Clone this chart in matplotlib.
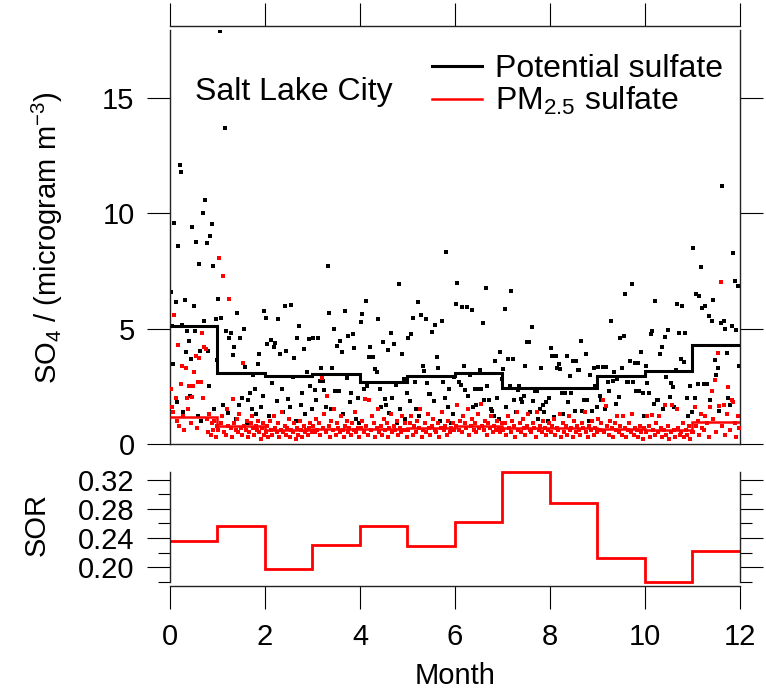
import numpy as np
import matplotlib
matplotlib.use("Agg")
import matplotlib.pyplot as plt

plt.rcParams['font.family'] = ['Liberation Sans', 'DejaVu Sans']
plt.rcParams['mathtext.fontset'] = 'custom'
plt.rcParams['mathtext.rm'] = 'Liberation Sans'
plt.rcParams['mathtext.it'] = 'Liberation Sans:italic'

# month edges and monthly means
month_edges = np.arange(13)
potential_mean = [5.13, 3.06, 2.96, 3.03, 2.67, 2.93, 3.09, 2.43, 2.44, 2.96, 3.18, 4.29]
pm25_mean = [1.18, 0.76, 0.61, 0.66, 0.66, 0.68, 0.80, 0.71, 0.70, 0.64, 0.61, 0.96]
sor_values = [0.236, 0.256, 0.198, 0.231, 0.257, 0.229, 0.262, 0.330, 0.288, 0.212, 0.180, 0.222]

# daily potential sulfate, one list per month
potential_daily = [
    [6.6, 5.1, 3.47, 9.6, 6.15, 1.8, 8.6, 12.1, 11.8, 5.16, 1.4, 6.24, 4.0, 4.9, 4.45, 2.1, 3.67, 9.4,
     5.98, 4.9, 8.76, 1.2, 7.8, 4.03, 1.0, 10.0, 5.33, 10.6, 8.7, 4.03, 2.5, 9.0, 9.55, 7.7, 1.5, 5.4, 3.66],
    [6.27, 17.9, 5.48, 1.7, 13.7, 4.9, 1.35, 4.6, 4.8, 3.85, 4.19, 1.1, 5.7, 1.7, 4.6, 2.0, 5.0, 3.32,
     0.9, 1.9, 2.2, 1.5, 3.0, 2.4, 1.3, 3.45, 3.9, 1.6, 2.1, 5.77],
    [5.48, 4.33, 1.2, 4.5, 2.66, 4.19, 4.37, 1.85, 5.42, 3.9, 2.4, 1.4, 6.0, 4.05, 1.95, 1.6, 6.02, 2.9,
     3.74, 1.0, 4.58, 5.11, 1.7, 2.2, 4.1, 1.3, 3.1, 4.53, 2.5, 1.5],
    [4.6, 2.35, 1.9, 4.6, 2.75, 3.3, 2.75, 2.35, 1.6, 7.7, 5.7, 1.5, 3.3, 5.0, 2.3, 4.26, 2.3, 4.45,
     3.97, 1.3, 5.77, 2.85, 4.68, 1.8, 2.2, 4.77, 4.15, 1.1, 2.0, 0.9],
    [5.3, 5.62, 2.4, 6.2, 2.5, 3.76, 4.2, 1.2, 3.75, 3.27, 3.1, 5.4, 2.4, 1.6, 4.4, 1.93, 1.7, 4.06,
     1.35, 4.8, 2.0, 4.35, 2.55, 0.9, 6.92, 1.5, 3.9, 2.8, 1.1, 2.2],
    [4.58, 1.85, 4.75, 5.45, 2.7, 1.5, 6.17, 1.2, 5.6, 3.37, 3.15, 5.4, 2.65, 2.15, 2.15, 4.85, 1.85,
     5.18, 3.78, 3.3, 1.0, 5.35, 2.7, 2.0, 8.31, 1.6, 2.4, 0.9, 1.3, 2.9],
    [6.05, 7.0, 2.7, 2.55, 5.95, 3.39, 2.35, 5.95, 2.1, 3.0, 5.8, 1.6, 2.4, 1.7, 2.4, 3.2, 2.4, 5.23,
     1.9, 6.75, 2.5, 1.9, 1.5, 1.45, 1.2, 3.6, 2.0, 1.1, 4.0, 2.8],
    [3.25, 5.87, 1.6, 3.7, 2.5, 6.63, 3.7, 1.9, 1.4, 2.35, 2.5, 1.95, 1.8, 2.1, 3.4, 4.4, 4.4, 1.4,
     5.07, 1.85, 2.3, 2.3, 1.1, 1.5, 3.3, 1.7, 1.4, 1.8, 1.0, 2.0],
    [4.18, 3.8, 1.15, 3.8, 3.3, 3.46, 3.27, 2.2, 1.3, 2.2, 3.8, 1.8, 2.95, 2.2, 3.6, 1.45, 3.6, 3.2,
     3.2, 4.46, 1.45, 1.9, 3.9, 1.9, 1.0, 3.0, 1.45, 3.3, 2.5, 1.6],
    [3.35, 2.1, 1.9, 3.35, 1.5, 3.35, 2.7, 2.3, 5.34, 2.75, 3.1, 1.75, 2.8, 2.05, 4.6, 3.3, 4.7, 6.5,
     2.7, 2.7, 3.6, 6.93, 2.7, 3.5, 2.3, 3.5, 2.3, 3.97, 2.2, 1.2],
    [3.4, 2.65, 2.2, 4.75, 4.9, 1.75, 6.18, 1.9, 1.9, 3.9, 4.2, 1.5, 4.65, 2.9, 4.95, 2.05, 2.65, 2.45,
     1.6, 3.2, 6.07, 4.8, 3.7, 5.98, 3.55, 4.83, 2.0, 1.2, 2.5, 1.4],
    [8.48, 2.0, 6.5, 2.6, 6.4, 7.69, 5.88, 2.6, 6.0, 2.6, 5.55, 1.9, 5.35, 6.24, 3.65, 3.0, 3.3, 1.45,
     5.23, 11.2, 5.35, 5.0, 3.95, 2.0, 1.7, 5.1, 8.27, 7.07, 4.95, 6.86, 3.4],
]

# daily PM2.5 sulfate, one list per month
pm25_daily = [
    [2.4, 1.6, 1.4, 5.6, 2.0, 1.0, 4.3, 0.8, 2.6, 3.4, 1.2, 0.6, 3.3, 2.0, 1.5, 2.5, 0.9, 2.05, 2.5,
     3.1, 3.8, 0.7, 2.7, 3.74, 2.7, 4.83, 2.0, 4.2, 4.1, 1.1, 0.5, 1.3, 0.4, 0.9, 0.6, 1.0, 0.3, 0.8],
    [0.6, 8.05, 0.9, 1.2, 7.27, 0.5, 0.4, 1.5, 0.8, 6.27, 0.7, 0.3, 1.95, 0.9, 0.6, 1.1, 0.5, 1.3, 0.7,
     0.4, 3.5, 0.8, 0.6, 1.0, 0.3, 0.5, 0.9, 1.2, 0.7, 0.4, 0.8, 0.6, 1.0, 0.5, 0.2, 0.7, 0.9, 0.4],
    [0.5, 0.8, 0.3, 1.0, 0.6, 0.4, 1.2, 0.7, 0.5, 0.9, 0.3, 0.6, 1.4, 0.5, 0.8, 0.4, 0.7, 1.1, 0.3,
     0.6, 0.5, 0.9, 0.2, 0.7, 0.4, 1.0, 0.6, 0.3, 0.8, 0.5, 0.6, 0.4, 0.7, 0.9, 0.5],
    [0.8, 0.5, 1.1, 0.6, 0.9, 0.4, 2.86, 0.7, 1.3, 0.5, 2.1, 0.8, 0.3, 1.0, 0.6, 1.5, 0.4, 0.9, 0.7,
     0.5, 1.2, 0.6, 0.3, 0.8, 1.0, 0.5, 0.7, 0.4, 0.9, 0.6, 1.4, 0.5, 0.7, 0.3],
    [0.7, 1.0, 0.5, 1.95, 0.8, 0.4, 1.9, 0.6, 1.2, 0.9, 0.3, 0.7, 1.5, 0.5, 0.8, 0.4, 1.1, 0.6, 0.9,
     0.3, 0.7, 1.3, 0.5, 0.8, 0.6, 1.0, 0.4, 0.7, 0.5, 1.2, 0.6, 0.9, 0.3],
    [0.6, 0.9, 1.2, 0.4, 0.8, 0.5, 1.0, 0.7, 1.5, 0.3, 0.6, 0.9, 0.5, 1.3, 0.7, 0.4, 0.8, 1.1, 0.6,
     0.5, 0.9, 0.3, 0.7, 1.4, 0.6, 0.8, 0.4, 1.0, 0.5, 0.7, 0.9, 0.6],
    [0.8, 1.7, 0.6, 1.0, 0.5, 1.2, 0.9, 0.7, 1.5, 0.4, 0.8, 1.1, 0.6, 0.9, 0.5, 1.3, 0.7, 1.73, 0.8,
     0.6, 1.0, 0.4, 0.9, 0.7, 1.2, 0.5, 0.8, 0.6, 1.0, 0.7, 0.5, 0.9],
    [0.6, 0.9, 0.4, 1.2, 0.7, 0.5, 1.0, 0.8, 0.3, 1.4, 0.6, 0.9, 0.5, 1.1, 0.7, 0.4, 0.8, 1.3, 0.6,
     0.5, 0.9, 0.7, 0.3, 1.4, 0.6, 0.8, 0.5, 1.0, 0.7, 0.4, 0.6, 0.9],
    [0.5, 0.8, 1.1, 0.4, 0.7, 0.6, 1.3, 0.3, 0.9, 0.5, 0.8, 0.4, 1.2, 0.6, 0.7, 0.3, 1.0, 0.5, 0.8,
     0.6, 0.4, 0.9, 0.7, 1.4, 0.5, 0.3, 0.8, 0.6, 1.0, 0.4, 0.7, 0.5],
    [1.1, 0.6, 0.9, 1.9, 0.5, 1.63, 0.8, 0.4, 1.0, 0.7, 0.3, 0.9, 0.6, 1.2, 0.5, 0.8, 0.4, 1.2, 0.7,
     0.3, 0.6, 0.9, 0.5, 1.3, 0.4, 0.7, 0.6, 0.3, 0.8, 0.5, 0.2, 0.7],
    [0.5, 1.2, 0.8, 0.3, 1.26, 0.6, 0.4, 0.9, 0.5, 1.2, 0.7, 0.3, 0.6, 1.7, 0.4, 0.8, 0.2, 0.5, 1.7,
     0.6, 0.3, 1.5, 0.7, 0.4, 0.5, 0.9, 0.3, 0.6, 0.4, 0.8, 0.2, 0.5],
    [0.5, 1.6, 0.8, 1.0, 0.4, 1.3, 0.7, 0.6, 1.2, 0.9, 0.3, 1.6, 2.3, 1.1, 2.77, 0.5, 3.93, 1.66, 7.03,
     0.8, 1.7, 0.4, 1.3, 2.46, 0.6, 1.9, 1.8, 0.9, 0.3, 1.2, 0.7],
]


def month_positions(monthly):
    # spread each month's days evenly across that month
    xs, ys = [], []
    for m, vals in enumerate(monthly):
        n = len(vals)
        xs.extend(m + (np.arange(n) + 0.5) / n)
        ys.extend(vals)
    return np.array(xs), np.array(ys)


px, py = month_positions(potential_daily)
rx, ry = month_positions(pm25_daily)

fig = plt.figure(figsize=(7.66, 6.91), dpi=100)
ax = fig.add_axes([0.2219, 0.3575, 0.7441, 0.5991])
ax2 = fig.add_axes([0.2219, 0.1577, 0.7441, 0.1592])

# top panel
ax.scatter(px, py, s=5.5, marker='s', color='black', linewidths=0, zorder=2)
ax.scatter(rx, ry, s=5.5, marker='s', color='#ff0000', linewidths=0, zorder=3)
ax.stairs(potential_mean, month_edges, baseline=None, color='black', linewidth=2.2, zorder=4,
          label='Potential sulfate')
ax.stairs(pm25_mean, month_edges, baseline=None, color='#ff0000', linewidth=1.8, zorder=5,
          label='PM$_{2.5}$ sulfate')

ax.set_xlim(0, 12)
ax.set_ylim(0, 17.95)
ax.set_yticks([0, 5, 10, 15])
ax.set_xticks(np.arange(0, 13, 2))
ax.spines['top'].set_position(('outward', 3))
ax.tick_params(axis='x', top=True, bottom=False, labelbottom=False, labeltop=False,
               direction='out', length=16.5, width=0.8)
ax.tick_params(axis='y', left=True, right=True, direction='out', length=16.5, width=0.8,
               labelsize=21, pad=9)
for sp in ax.spines.values():
    sp.set_linewidth(1.0)
    sp.set_color('#222222')

ax.text(0.044, 0.831, 'Salt Lake City', transform=ax.transAxes, fontsize=23, va='baseline')
ax.legend(loc='upper left', bbox_to_anchor=(0.46, 0.941), frameon=False, fontsize=23,
          handlelength=1.57, handletextpad=0.4, borderpad=0, borderaxespad=0, labelspacing=0.02)

# bottom panel
ax2.stairs(sor_values, month_edges, baseline=None, color='#ff0000', linewidth=2.0, clip_on=False)
ax2.set_xlim(0, 12)
ax2.set_ylim(0.1795, 0.3305)
ax2.set_yticks([0.20, 0.24, 0.28, 0.32])
ax2.set_yticks([0.18, 0.22, 0.26, 0.30], minor=True)
ax2.set_yticklabels(['0.20', '0.24', '0.28', '0.32'])
ax2.set_xticks(np.arange(0, 13, 2))
ax2.spines['top'].set_visible(False)
ax2.spines['bottom'].set_position(('outward', 3))
ax2.tick_params(axis='x', direction='out', length=16.5, width=0.8, labelsize=21, pad=10)
ax2.tick_params(axis='y', which='major', left=True, right=True, direction='out', length=16.5,
                width=0.8, labelsize=21, pad=9)
ax2.tick_params(axis='y', which='minor', left=True, right=True, direction='out', length=8.6, width=0.8)
for sp in ax2.spines.values():
    sp.set_linewidth(1.0)
    sp.set_color('#222222')

fig.text(47 / 766, 1 - 238 / 691, 'SO$_4$ / (microgram m$^{-3}$)', rotation=90,
         ha='center', va='center', fontsize=21)
fig.text(37 / 766, 1 - 524 / 691, 'SOR', rotation=90, ha='center', va='center', fontsize=21)
fig.text(455 / 766, 1 - 684 / 691, 'Month', ha='center', va='baseline', fontsize=21)

fig.savefig('out.png', dpi=100)
